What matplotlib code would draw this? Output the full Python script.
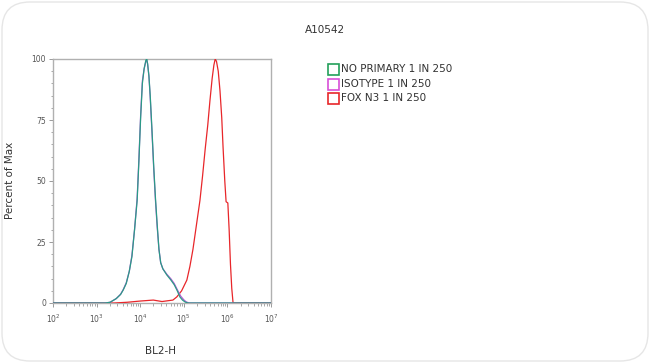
import numpy as np
import matplotlib
matplotlib.use("Agg")
import matplotlib.pyplot as plt
from matplotlib.patches import FancyBboxPatch, Rectangle
from matplotlib.transforms import IdentityTransform
from matplotlib.ticker import LogLocator, FixedLocator, MultipleLocator, NullFormatter

title = "A10542"
x_label = "BL2-H"
y_label = "Percent of Max"
series_names = ["NO PRIMARY 1 IN 250", "ISOTYPE 1 IN 250", "FOX N3 1 IN 250"]
series_colors = ["#22a05a", "#d84fd8", "#e8262a"]
line_colors = ["#2a9a86", "#b65ad6", "#e8262a"]

# log10 of BL2-H and percent of max
no_primary_log = [2.0, 3.2, 3.31, 3.45, 3.55, 3.61, 3.68, 3.75, 3.81, 3.87, 3.93, 3.97, 4.01, 4.05, 4.09, 4.13, 4.15, 4.17, 4.2, 4.23, 4.27, 4.31, 4.35, 4.39, 4.43, 4.47, 4.52, 4.61, 4.7, 4.78, 4.85, 4.91, 4.97, 5.03, 5.1, 7.0]
no_primary_val = [0.0, 0.0, 0.3, 1.8, 3.5, 5.3, 8, 13, 19, 30, 42, 58, 76, 90, 96, 99.5, 100, 98, 93, 85, 71, 56, 43, 32, 22, 16.5, 14, 11.5, 9.5, 7.5, 5, 2.5, 1.2, 0.4, 0.0, 0.0]

isotype_log = [2.0, 3.2, 3.31, 3.45, 3.55, 3.61, 3.68, 3.75, 3.81, 3.87, 3.93, 3.97, 4.01, 4.05, 4.09, 4.13, 4.15, 4.17, 4.2, 4.23, 4.27, 4.31, 4.35, 4.39, 4.43, 4.47, 4.52, 4.61, 4.7, 4.78, 4.85, 4.93, 5.0, 5.06, 5.13, 7.0]
isotype_val = [0.0, 0.0, 0.3, 1.8, 3.6, 5.5, 8.3, 13, 19.5, 30, 43, 59, 77, 91, 96, 99, 99.5, 98, 93, 84, 70, 55, 42, 31, 22, 16.5, 14, 11.8, 10, 8, 5.5, 2.8, 1.3, 0.4, 0.0, 0.0]

fox_log = [2.0, 3.4, 3.7, 4.0, 4.3, 4.5, 4.75, 4.84, 4.95, 5.07, 5.14, 5.21, 5.29, 5.37, 5.43, 5.49, 5.55, 5.6, 5.65, 5.69, 5.72, 5.75, 5.79, 5.83, 5.87, 5.9, 5.94, 5.97, 6.01, 6.04, 6.07, 6.1, 6.13, 7.0]
fox_val = [0.0, 0.0, 0.3, 0.8, 1.2, 0.6, 1.2, 2.5, 5, 9.4, 15, 22, 32, 42, 52, 63, 73, 83, 92, 97.5, 100, 99, 95, 87, 76, 64, 50, 41.5, 41, 30, 16, 6, 0.0, 0.0]

series_log = [no_primary_log, isotype_log, fox_log]
series_val = [no_primary_val, isotype_val, fox_val]

W, H = 650, 363
fig = plt.figure(figsize=(W / 100, H / 100), dpi=100)
ax = fig.add_axes([53 / W, 1 - 303 / H, (271 - 53) / W, (303 - 59) / H])

z = [5, 4, 3]
for i in range(3):
    x = np.power(10.0, np.array(series_log[i]))
    ax.plot(x, series_val[i], color=line_colors[i], lw=0.9, zorder=z[i])

ax.set_xscale("log")
ax.set_xlim(1e2, 1e7)
ax.set_ylim(0, 100)

axis_gray = "#9a9a9a"
for s in ax.spines.values():
    s.set_color("#b0b0b0")
    s.set_linewidth(1.0)

ax.xaxis.set_major_locator(LogLocator(base=10, numticks=10))
ax.xaxis.set_minor_locator(LogLocator(base=10, subs=np.arange(2, 10), numticks=20))
ax.xaxis.set_minor_formatter(NullFormatter())
ax.yaxis.set_major_locator(FixedLocator([0, 25, 50, 75, 100]))
ax.yaxis.set_minor_locator(MultipleLocator(5))
ax.tick_params(which="major", length=3, width=0.7, color=axis_gray, labelsize=5.5, labelcolor="#555555", pad=2)
ax.tick_params(which="minor", length=1.8, width=0.6, color=axis_gray)
ax.tick_params(axis="x", which="major", pad=4)

fig.text(325 / W, 1 - 30 / H, title, ha="center", va="center", fontsize=7.5, color="#333333")
fig.text(160 / W, 1 - 351 / H, x_label, ha="center", va="center", fontsize=7.5, color="#333333")
fig.text(10 / W, 1 - 180 / H, y_label, ha="center", va="center", rotation=90, fontsize=7.5, color="#333333")

# legend
ident = IdentityTransform()
row_y = [69, 84, 98]
for name, col, yy in zip(series_names, series_colors, row_y):
    ypix = H - yy
    fig.patches.append(Rectangle((328, ypix - 5.5), 11, 11, transform=ident, fill=False,
                                 edgecolor=col, linewidth=1.2))
    fig.text(341 / W, ypix / H, name, ha="left", va="center", fontsize=7.5, color="#333333")

# rounded outer frame
fig.patches.append(FancyBboxPatch((2, 2), W - 4, H - 4, boxstyle="round,pad=0,rounding_size=28",
                                  transform=ident, fill=False, edgecolor="#e6e6e6", linewidth=1.0))

fig.savefig("out.png", dpi=100)
